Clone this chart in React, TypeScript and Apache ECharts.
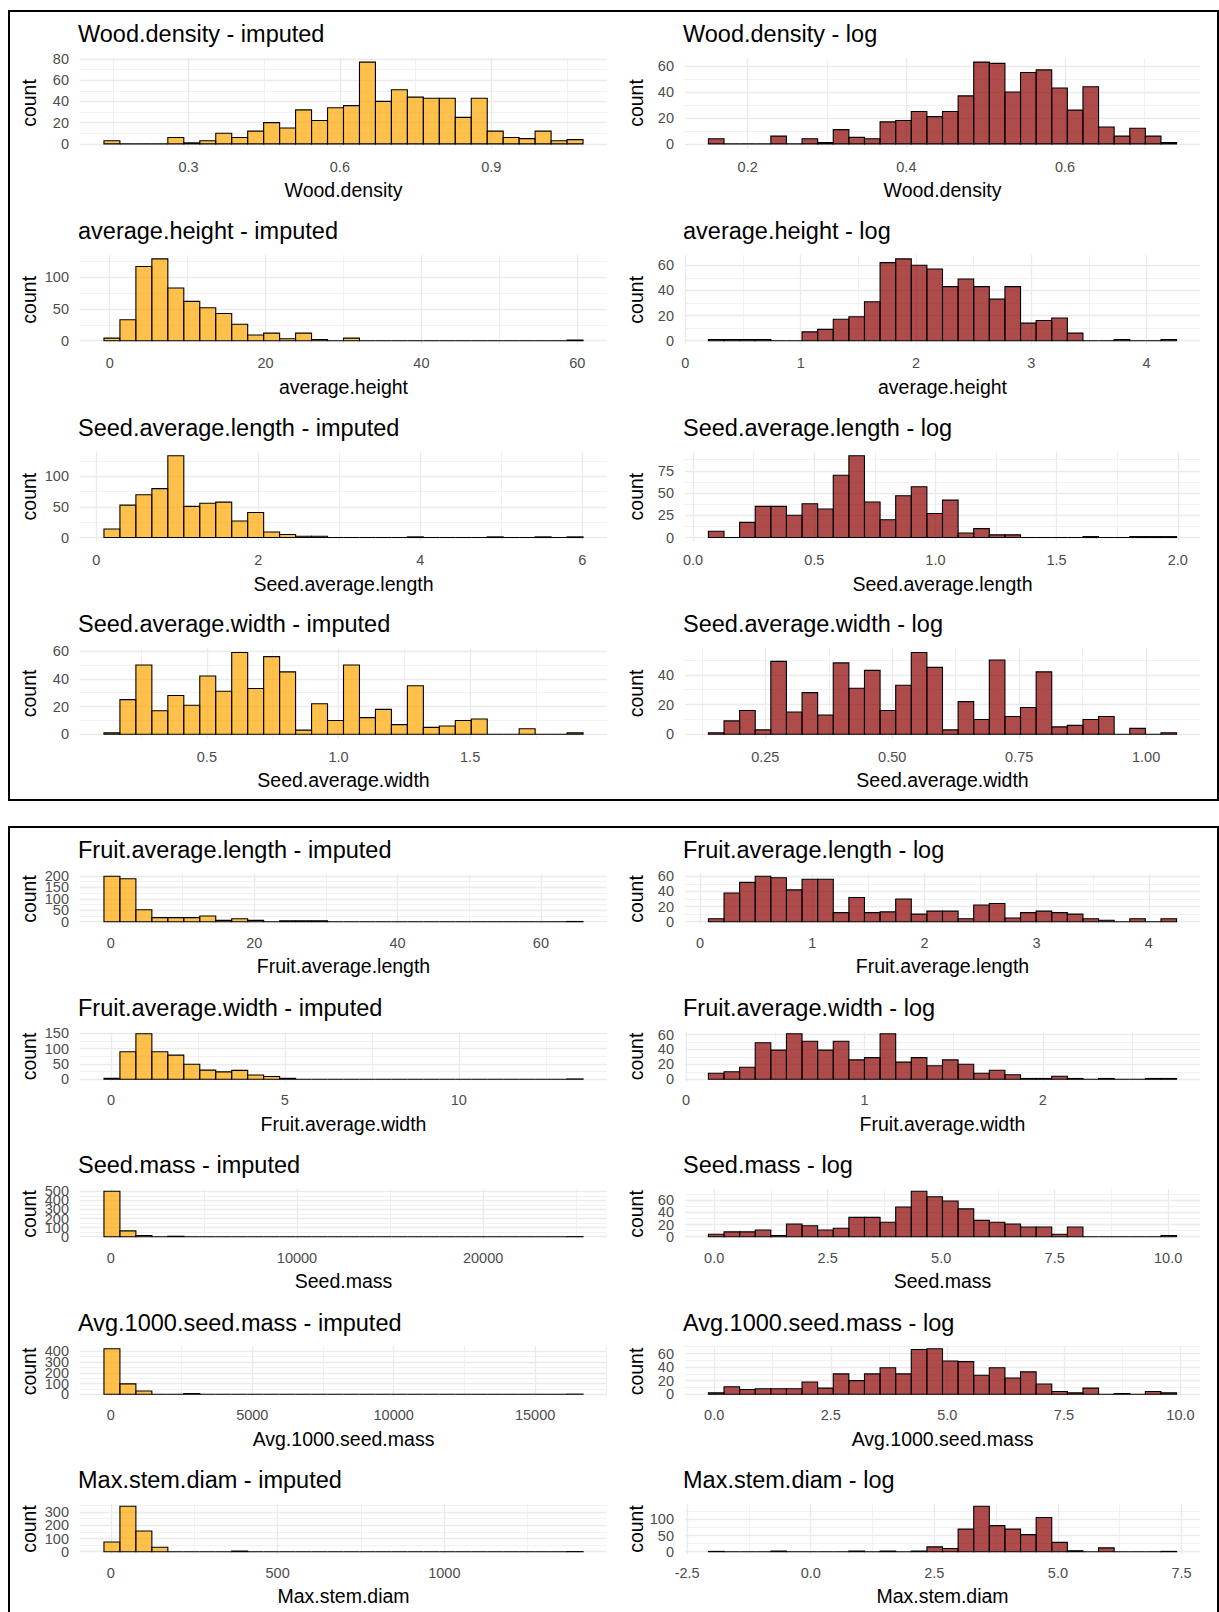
import React, { useEffect, useRef } from "react";
import * as echarts from "echarts";

const FONT = '"Liberation Sans", Arial, Helvetica, sans-serif';

// ---------- data (30 bins each: [left edge of first bin, right edge of last bin], counts) ----------
const woodDensityImputedCounts = [3, 0, 0, 0, 6, 1, 3, 10, 6, 12, 20, 15, 32, 22, 34, 36, 77, 40, 51, 44, 43, 43, 25, 43, 12, 6, 5, 12, 3, 4];
const woodDensityImputedRange = [0.1324, 1.082];
const woodDensityImputedXTicks = ["0.3", "0.6", "0.9"];
const woodDensityImputedYTicks = [0, 20, 40, 60, 80];

const woodDensityLogCounts = [4, 0, 0, 0, 6, 0, 4, 1, 11, 5, 4, 17, 18, 25, 21, 25, 37, 63, 62, 40, 55, 57, 43, 26, 44, 13, 6, 12, 6, 1];
const woodDensityLogRange = [0.1505, 0.7406];
const woodDensityLogXTicks = ["0.2", "0.4", "0.6"];
const woodDensityLogYTicks = [0, 20, 40, 60];

const averageHeightImputedCounts = [4, 33, 117, 129, 83, 62, 52, 43, 26, 9, 12, 3, 12, 2, 0, 4, 0, 0, 0, 0, 0, 0, 0, 0, 0, 0, 0, 0, 0, 1];
const averageHeightImputedRange = [-0.74, 60.74];
const averageHeightImputedXTicks = ["0", "20", "40", "60"];
const averageHeightImputedYTicks = [0, 50, 100];

const averageHeightLogCounts = [1, 1, 1, 1, 0, 0, 7, 9, 17, 19, 31, 62, 65, 60, 57, 43, 49, 43, 33, 43, 14, 16, 18, 6, 0, 0, 1, 0, 0, 1];
const averageHeightLogRange = [0.2, 4.26];
const averageHeightLogXTicks = ["0", "1", "2", "3", "4"];
const averageHeightLogYTicks = [0, 20, 40, 60];

const seedLengthImputedCounts = [14, 53, 70, 80, 134, 51, 56, 58, 27, 41, 9, 5, 2, 2, 0, 0, 0, 0, 0, 1, 0, 0, 0, 0, 1, 0, 0, 1, 0, 1];
const seedLengthImputedRange = [0.095, 6.01];
const seedLengthImputedXTicks = ["0", "2", "4", "6"];
const seedLengthImputedYTicks = [0, 50, 100];

const seedLengthLogCounts = [7, 0, 17, 35, 35, 25, 38, 32, 70, 92, 40, 20, 47, 57, 27, 42, 5, 10, 3, 3, 0, 0, 0, 0, 1, 0, 0, 1, 1, 1];
const seedLengthLogRange = [0.0635, 1.995];
const seedLengthLogXTicks = ["0.0", "0.5", "1.0", "1.5", "2.0"];
const seedLengthLogYTicks = [0, 25, 50, 75];

const seedWidthImputedCounts = [1, 25, 50, 17, 28, 21, 42, 31, 59, 33, 56, 45, 3, 22, 10, 50, 12, 18, 7, 35, 5, 6, 10, 11, 0, 0, 4, 0, 0, 1];
const seedWidthImputedRange = [0.109, 1.929];
const seedWidthImputedXTicks = ["0.5", "1.0", "1.5"];
const seedWidthImputedYTicks = [0, 20, 40, 60];

const seedWidthLogCounts = [1, 9, 16, 3, 49, 15, 28, 13, 48, 31, 43, 16, 33, 55, 45, 3, 22, 10, 50, 12, 18, 42, 5, 6, 10, 12, 0, 4, 0, 1];
const seedWidthLogRange = [0.138, 1.06];
const seedWidthLogXTicks = ["0.25", "0.50", "0.75", "1.00"];
const seedWidthLogYTicks = [0, 20, 40];

const fruitLengthImputedCounts = [198, 187, 52, 18, 18, 18, 25, 6, 13, 6, 0, 4, 4, 4, 0, 0, 0, 0, 0, 0, 0, 0, 0, 0, 0, 0, 0, 0, 0, 1];
const fruitLengthImputedRange = [-0.97, 65.88];
const fruitLengthImputedXTicks = ["0", "20", "40", "60"];
const fruitLengthImputedYTicks = [0, 50, 100, 150, 200];

const fruitLengthLogCounts = [4, 38, 52, 60, 58, 42, 56, 56, 12, 32, 12, 13, 30, 10, 14, 14, 4, 22, 24, 5, 12, 14, 12, 10, 4, 2, 0, 4, 0, 4];
const fruitLengthLogRange = [0.075, 4.247];
const fruitLengthLogXTicks = ["0", "1", "2", "3", "4"];
const fruitLengthLogYTicks = [0, 20, 40, 60];

const fruitWidthImputedCounts = [3, 90, 149, 90, 79, 49, 30, 24, 29, 14, 9, 3, 0, 0, 0, 0, 0, 0, 0, 0, 0, 0, 0, 0, 0, 0, 0, 0, 0, 1];
const fruitWidthImputedRange = [-0.2, 13.57];
const fruitWidthImputedXTicks = ["0", "5", "10"];
const fruitWidthImputedYTicks = [0, 50, 100, 150];

const fruitWidthLogCounts = [8, 10, 16, 49, 39, 61, 51, 39, 51, 26, 29, 61, 23, 29, 18, 26, 20, 8, 12, 6, 1, 1, 4, 1, 0, 1, 0, 0, 1, 1];
const fruitWidthLogRange = [0.125, 2.75];
const fruitWidthLogXTicks = ["0", "1", "2"];
const fruitWidthLogYTicks = [0, 20, 40, 60];

const seedMassImputedCounts = [500, 64, 14, 0, 5, 0, 0, 0, 0, 0, 0, 0, 0, 0, 0, 0, 0, 0, 0, 0, 0, 0, 0, 0, 0, 0, 0, 0, 0, 1];
const seedMassImputedRange = [-373, 25370];
const seedMassImputedXTicks = ["0", "10000", "20000"];
const seedMassImputedYTicks = [0, 100, 200, 300, 400, 500];

const seedMassLogCounts = [4, 8, 8, 11, 2, 21, 18, 11, 14, 32, 32, 24, 49, 75, 66, 59, 46, 27, 24, 21, 16, 16, 4, 16, 0, 0, 0, 0, 0, 2];
const seedMassLogRange = [-0.127, 10.186];
const seedMassLogXTicks = ["0.0", "2.5", "5.0", "7.5", "10.0"];
const seedMassLogYTicks = [0, 20, 40, 60];

const avg1000ImputedCounts = [424, 97, 30, 0, 0, 6, 0, 0, 0, 0, 0, 0, 0, 0, 0, 0, 0, 0, 0, 0, 0, 0, 0, 0, 0, 0, 0, 0, 0, 1];
const avg1000ImputedRange = [-245, 16695];
const avg1000ImputedXTicks = ["0", "5000", "10000", "15000"];
const avg1000ImputedYTicks = [0, 100, 200, 300, 400];

const avg1000LogCounts = [2, 11, 7, 8, 8, 8, 18, 9, 30, 20, 30, 39, 30, 66, 67, 49, 48, 28, 39, 24, 33, 15, 4, 2, 9, 0, 1, 0, 4, 2];
const avg1000LogRange = [-0.124, 9.917];
const avg1000LogXTicks = ["0.0", "2.5", "5.0", "7.5", "10.0"];
const avg1000LogYTicks = [0, 20, 40, 60];

const maxStemImputedCounts = [74, 344, 157, 34, 0, 0, 0, 0, 5, 0, 0, 0, 0, 0, 0, 0, 0, 0, 0, 0, 0, 0, 0, 0, 0, 0, 0, 0, 0, 1];
const maxStemImputedRange = [-20.8, 1416];
const maxStemImputedXTicks = ["0", "500", "1000"];
const maxStemImputedYTicks = [0, 100, 200, 300];

const maxStemLogCounts = [1, 0, 0, 0, 2, 0, 0, 0, 0, 2, 0, 2, 0, 2, 15, 10, 70, 141, 81, 70, 53, 106, 29, 3, 0, 12, 0, 0, 0, 1];
const maxStemLogRange = [-2.07, 7.4];
const maxStemLogXTicks = ["-2.5", "0.0", "2.5", "5.0", "7.5"];
const maxStemLogYTicks = [0, 50, 100];

type Kind = "imputed" | "log";
interface Hist {
  variable: string;
  kind: Kind;
  block: number;
  row: number;
  counts: number[];
  range: number[];
  xTicks: string[];
  yTicks: number[];
}

const hists: Hist[] = [
  { variable: "Wood.density", kind: "imputed", block: 0, row: 0, counts: woodDensityImputedCounts, range: woodDensityImputedRange, xTicks: woodDensityImputedXTicks, yTicks: woodDensityImputedYTicks },
  { variable: "Wood.density", kind: "log", block: 0, row: 0, counts: woodDensityLogCounts, range: woodDensityLogRange, xTicks: woodDensityLogXTicks, yTicks: woodDensityLogYTicks },
  { variable: "average.height", kind: "imputed", block: 0, row: 1, counts: averageHeightImputedCounts, range: averageHeightImputedRange, xTicks: averageHeightImputedXTicks, yTicks: averageHeightImputedYTicks },
  { variable: "average.height", kind: "log", block: 0, row: 1, counts: averageHeightLogCounts, range: averageHeightLogRange, xTicks: averageHeightLogXTicks, yTicks: averageHeightLogYTicks },
  { variable: "Seed.average.length", kind: "imputed", block: 0, row: 2, counts: seedLengthImputedCounts, range: seedLengthImputedRange, xTicks: seedLengthImputedXTicks, yTicks: seedLengthImputedYTicks },
  { variable: "Seed.average.length", kind: "log", block: 0, row: 2, counts: seedLengthLogCounts, range: seedLengthLogRange, xTicks: seedLengthLogXTicks, yTicks: seedLengthLogYTicks },
  { variable: "Seed.average.width", kind: "imputed", block: 0, row: 3, counts: seedWidthImputedCounts, range: seedWidthImputedRange, xTicks: seedWidthImputedXTicks, yTicks: seedWidthImputedYTicks },
  { variable: "Seed.average.width", kind: "log", block: 0, row: 3, counts: seedWidthLogCounts, range: seedWidthLogRange, xTicks: seedWidthLogXTicks, yTicks: seedWidthLogYTicks },
  { variable: "Fruit.average.length", kind: "imputed", block: 1, row: 0, counts: fruitLengthImputedCounts, range: fruitLengthImputedRange, xTicks: fruitLengthImputedXTicks, yTicks: fruitLengthImputedYTicks },
  { variable: "Fruit.average.length", kind: "log", block: 1, row: 0, counts: fruitLengthLogCounts, range: fruitLengthLogRange, xTicks: fruitLengthLogXTicks, yTicks: fruitLengthLogYTicks },
  { variable: "Fruit.average.width", kind: "imputed", block: 1, row: 1, counts: fruitWidthImputedCounts, range: fruitWidthImputedRange, xTicks: fruitWidthImputedXTicks, yTicks: fruitWidthImputedYTicks },
  { variable: "Fruit.average.width", kind: "log", block: 1, row: 1, counts: fruitWidthLogCounts, range: fruitWidthLogRange, xTicks: fruitWidthLogXTicks, yTicks: fruitWidthLogYTicks },
  { variable: "Seed.mass", kind: "imputed", block: 1, row: 2, counts: seedMassImputedCounts, range: seedMassImputedRange, xTicks: seedMassImputedXTicks, yTicks: seedMassImputedYTicks },
  { variable: "Seed.mass", kind: "log", block: 1, row: 2, counts: seedMassLogCounts, range: seedMassLogRange, xTicks: seedMassLogXTicks, yTicks: seedMassLogYTicks },
  { variable: "Avg.1000.seed.mass", kind: "imputed", block: 1, row: 3, counts: avg1000ImputedCounts, range: avg1000ImputedRange, xTicks: avg1000ImputedXTicks, yTicks: avg1000ImputedYTicks },
  { variable: "Avg.1000.seed.mass", kind: "log", block: 1, row: 3, counts: avg1000LogCounts, range: avg1000LogRange, xTicks: avg1000LogXTicks, yTicks: avg1000LogYTicks },
  { variable: "Max.stem.diam", kind: "imputed", block: 1, row: 4, counts: maxStemImputedCounts, range: maxStemImputedRange, xTicks: maxStemImputedXTicks, yTicks: maxStemImputedYTicks },
  { variable: "Max.stem.diam", kind: "log", block: 1, row: 4, counts: maxStemLogCounts, range: maxStemLogRange, xTicks: maxStemLogXTicks, yTicks: maxStemLogYTicks },
];

const FILL: Record<Kind, string> = {
  imputed: "rgba(255,165,0,0.7)",
  log: "rgba(139,0,0,0.7)",
};

// ---------- layout ----------
const TITLE_SIZE = 23.5;
const AXIS_TITLE_SIZE = 19.5;
const TICK_SIZE = 14.5;
const GRID_MAJOR = "#EBEBEB";
const TICK_COLOR = "#4D4D4D";

function panelRect(h: Hist) {
  const col = h.kind === "imputed" ? 0 : 1;
  const left = col === 0 ? 80 : 685;
  const width = col === 0 ? 527 : 515;
  const top = h.block === 0 ? 58 + h.row * 196.8 : 874 + h.row * 157.5;
  const height = h.block === 0 ? 90 : 50;
  return { left, top, width, height };
}

function minorBreaks(major: number[], lo: number, hi: number): number[] {
  if (major.length < 2) return [];
  const step = major[1] - major[0];
  const ext = [major[0] - step, ...major, major[major.length - 1] + step];
  const out: number[] = [];
  for (let i = 0; i < ext.length - 1; i++) {
    const v = (ext[i] + ext[i + 1]) / 2;
    if (v >= lo && v <= hi) out.push(v);
  }
  return out;
}

const Y_AXES_PER_GRID = 4;

function buildOption() {
  const grids: any[] = [];
  const xAxes: any[] = [];
  const yAxes: any[] = [];
  const series: any[] = [];
  const graphics: any[] = [
    { type: "rect", silent: true, shape: { x: 9, y: 11, width: 1209, height: 789 }, style: { fill: "none", stroke: "#000", lineWidth: 2 } },
    { type: "rect", silent: true, shape: { x: 9, y: 827, width: 1209, height: 820 }, style: { fill: "none", stroke: "#000", lineWidth: 2 } },
  ];

  hists.forEach((h, i) => {
    const r = panelRect(h);
    grids.push({ left: r.left, top: r.top, width: r.width, height: r.height, containLabel: false });

    const [lo, hi] = h.range;
    const bw = (hi - lo) / h.counts.length;
    const xPad = (hi - lo) * 0.05;
    const xMin = lo - xPad;
    const xMax = hi + xPad;
    const yTop = Math.max(...h.counts);
    const yMin = -0.05 * yTop;
    const yMax = 1.05 * yTop;

    const xVals = h.xTicks.map(Number);
    const xMinor = minorBreaks(xVals, xMin, xMax);
    const yMinor = minorBreaks(h.yTicks, yMin, yMax);
    const xLabel = (v: number) => {
      const k = xVals.findIndex((t) => Math.abs(t - v) < 1e-9 * Math.max(1, Math.abs(t)));
      return k >= 0 ? h.xTicks[k] : String(v);
    };

    xAxes.push({
      type: "value", gridIndex: i, min: xMin, max: xMax, position: "bottom",
      axisLine: { show: false, onZero: false },
      axisTick: { show: false, customValues: xVals },
      axisLabel: {
        customValues: xVals, formatter: xLabel, color: TICK_COLOR, fontSize: TICK_SIZE, fontFamily: FONT, margin: 11,
        showMinLabel: true, showMaxLabel: true, hideOverlap: false,
      },
      splitLine: { show: true, lineStyle: { color: GRID_MAJOR, width: 1.3 } },
      name: h.variable, nameLocation: "middle", nameGap: 32,
      nameTextStyle: { color: "#000", fontSize: AXIS_TITLE_SIZE, fontFamily: FONT },
    });
    xAxes.push({
      type: "value", gridIndex: i, min: xMin, max: xMax, position: "bottom",
      axisLine: { show: false, onZero: false },
      axisTick: { show: false, customValues: xMinor },
      axisLabel: { show: false },
      splitLine: { show: xMinor.length > 0, lineStyle: { color: GRID_MAJOR, width: 0.7 } },
    });

    // major y axis: gridlines + "count" title
    yAxes.push({
      type: "value", gridIndex: i, min: yMin, max: yMax, position: "left",
      axisLine: { show: false, onZero: false },
      axisTick: { show: false, customValues: h.yTicks },
      axisLabel: { show: false },
      splitLine: { show: true, lineStyle: { color: GRID_MAJOR, width: 1.3 } },
      name: "count", nameLocation: "middle", nameRotate: 90, nameGap: h.kind === "imputed" ? 41 : 39,
      nameTextStyle: { color: "#000", fontSize: AXIS_TITLE_SIZE, fontFamily: FONT },
    });
    // minor y gridlines
    yAxes.push({
      type: "value", gridIndex: i, min: yMin, max: yMax, position: "left",
      axisLine: { show: false, onZero: false },
      axisTick: { show: false, customValues: yMinor },
      axisLabel: { show: false },
      splitLine: { show: yMinor.length > 0, lineStyle: { color: GRID_MAJOR, width: 0.7 } },
    });
    // tick labels, split in two alternating sets so that none is dropped
    [0, 1].forEach((parity) => {
      const vals = h.yTicks.filter((_, k) => k % 2 === parity);
      yAxes.push({
        type: "value", gridIndex: i, min: yMin, max: yMax, position: "left",
        axisLine: { show: false, onZero: false },
        axisTick: { show: false, customValues: vals },
        axisLabel: {
          customValues: vals, formatter: (v: number) => String(Math.round(v)), color: TICK_COLOR, fontSize: TICK_SIZE, fontFamily: FONT, margin: 11,
          showMinLabel: true, showMaxLabel: true, hideOverlap: false,
        },
        splitLine: { show: false },
      });
    });

    const fill = FILL[h.kind];
    series.push({
      type: "custom",
      name: `${h.variable} - ${h.kind}`,
      xAxisIndex: 2 * i,
      yAxisIndex: Y_AXES_PER_GRID * i,
      encode: { x: [0, 1], y: 2 },
      data: h.counts.map((c, k) => [lo + k * bw, lo + (k + 1) * bw, c]),
      renderItem: (_params: any, api: any) => {
        const a = api.coord([api.value(0), 0]);
        const b = api.coord([api.value(1), api.value(2)]);
        return {
          type: "rect",
          shape: { x: a[0], y: b[1], width: b[0] - a[0], height: a[1] - b[1] },
          style: { fill, stroke: "#000", lineWidth: 1.1 },
        };
      },
    });

    graphics.push({
      type: "text", silent: true,
      x: r.left - 2, y: r.top - 24,
      style: { text: `${h.variable} - ${h.kind}`, font: `${TITLE_SIZE}px ${FONT}`, fill: "#000", verticalAlign: "middle", align: "left" },
    });
  });

  return {
    animation: false,
    backgroundColor: "#fff",
    grid: grids,
    xAxis: xAxes,
    yAxis: yAxes,
    series,
    graphic: graphics,
  };
}

export default function App() {
  const ref = useRef<HTMLDivElement>(null);
  useEffect(() => {
    document.body.style.margin = "0";
    if (!ref.current) return;
    const chart = echarts.init(ref.current, undefined, { renderer: "svg" });
    chart.setOption(buildOption() as any);
    return () => chart.dispose();
  }, []);
  return <div ref={ref} style={{ width: 1219, height: 1612, position: "absolute", left: 0, top: 0, background: "#fff" }} />;
}
